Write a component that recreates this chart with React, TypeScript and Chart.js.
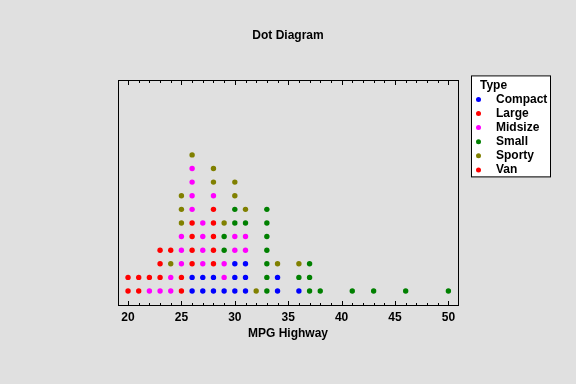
import React, { useEffect, useRef } from "react";
import { Chart, registerables } from "chart.js";

Chart.register(...registerables);

const chartTitle = "Dot Diagram";
const xAxisTitle = "MPG Highway";
const legendTitle = "Type";
const categories = ["Compact", "Large", "Midsize", "Small", "Sporty", "Van"];
const colors = ["#0000ff", "#ff0000", "#ff00ff", "#008000", "#808000", "#ff0000"];

const compactMPG = [26, 26, 27, 27, 28, 28, 29, 30, 30, 30, 31, 31, 31, 34, 34, 36];
const largeMPG = [25, 25, 26, 26, 26, 26, 28, 28, 28, 28, 28];
const midsizeMPG = [22, 23, 24, 24, 25, 25, 25, 26, 26, 26, 26, 27, 27, 27, 27, 28, 29, 29, 30, 30, 31, 31];
const smallMPG = [29, 29, 30, 30, 31, 33, 33, 33, 33, 33, 33, 33, 36, 37, 37, 37, 38, 41, 43, 46, 50];
const sportyMPG = [24, 25, 25, 25, 26, 28, 28, 29, 30, 30, 31, 32, 34, 36];
const vanMPG = [20, 20, 21, 21, 22, 23, 23, 23, 24];
const xTickValues = [20, 25, 30, 35, 40, 45, 50];

const seriesValues = [compactMPG, largeMPG, midsizeMPG, smallMPG, sportyMPG, vanMPG];

const FONT = "'Liberation Sans', Arial, sans-serif";

function buildDatasets() {
  const counts: Record<number, number> = {};
  return categories.map((name, i) => {
    const pts = seriesValues[i].map((v) => {
      counts[v] = (counts[v] || 0) + 1;
      return { x: v, y: counts[v] };
    });
    return {
      label: name,
      data: pts,
      backgroundColor: colors[i],
      borderColor: colors[i],
      borderWidth: 0,
      pointRadius: 2.7,
      pointHoverRadius: 2.7,
      showLine: false,
    };
  });
}

const bgPlugin = {
  id: "bg",
  beforeDraw(chart: any) {
    const { ctx, width, height } = chart;
    ctx.save();
    ctx.fillStyle = "#e0e0e0";
    ctx.fillRect(0, 0, width, height);
    ctx.restore();
  },
};

const framePlugin = {
  id: "frame",
  afterDatasetsDraw(chart: any) {
    const { ctx, chartArea } = chart;
    const { left, right, top, bottom } = chartArea;
    const xs = chart.scales.x;
    ctx.save();
    ctx.strokeStyle = "#000";
    ctx.lineWidth = 1;
    ctx.strokeRect(Math.round(left) + 0.5, Math.round(top) + 0.5, Math.round(right - left), Math.round(bottom - top));
    const first = xTickValues[0];
    const last = xTickValues[xTickValues.length - 1];
    ctx.beginPath();
    for (let v = first; v <= last; v++) {
      const px = Math.round(xs.getPixelForValue(v)) + 0.5;
      const major = xTickValues.includes(v);
      const len = major ? 5 : 3;
      ctx.moveTo(px, Math.round(bottom));
      ctx.lineTo(px, Math.round(bottom) - len);
      ctx.moveTo(px, Math.round(top));
      ctx.lineTo(px, Math.round(top) + len);
    }
    ctx.stroke();
    ctx.restore();
  },
};

const legendPlugin = {
  id: "boxLegend",
  afterDraw(chart: any) {
    const { ctx, chartArea } = chart;
    const x0 = chartArea.right + 13;
    const y0 = chartArea.top - 5;
    const w = 79;
    const h = 101;
    ctx.save();
    ctx.fillStyle = "#ffffff";
    ctx.fillRect(x0, y0, w, h);
    ctx.strokeStyle = "#000";
    ctx.lineWidth = 1;
    ctx.strokeRect(x0 + 0.5, y0 + 0.5, w, h);
    ctx.fillStyle = "#000";
    ctx.font = `bold 12px ${FONT}`;
    ctx.textBaseline = "middle";
    ctx.textAlign = "left";
    ctx.fillText(legendTitle, x0 + 9, y0 + 10);
    chart.data.datasets.forEach((ds: any, i: number) => {
      const cy = y0 + 24 + i * 14.1;
      ctx.fillStyle = ds.backgroundColor;
      ctx.beginPath();
      ctx.arc(x0 + 7.5, cy, 2.5, 0, Math.PI * 2);
      ctx.fill();
      ctx.fillStyle = "#000";
      ctx.fillText(ds.label, x0 + 25, cy);
    });
    ctx.restore();
  },
};

export default function App() {
  const ref = useRef<HTMLCanvasElement | null>(null);
  useEffect(() => {
    if (!ref.current) return;
    const chart = new Chart(ref.current, {
      type: "scatter",
      data: { datasets: buildDatasets() as any },
      options: {
        animation: false,
        responsive: false,
        devicePixelRatio: 1,
        events: [],
        layout: { padding: { left: 118, right: 118, top: 0, bottom: 40 } },
        plugins: {
          legend: { display: false },
          tooltip: { enabled: false },
          title: {
            display: true,
            text: chartTitle,
            color: "#000",
            font: { family: FONT, size: 12, weight: "bold" },
            padding: { top: 28, bottom: 38 },
          },
        },
        scales: {
          x: {
            type: "linear",
            min: 19.06,
            max: 50.9,
            afterBuildTicks: (scale: any) => {
              scale.ticks = xTickValues.map((v) => ({ value: v }));
            },
            grid: { display: false, drawTicks: false },
            border: { display: false },
            ticks: {
              color: "#000",
              padding: 5,
              maxRotation: 0,
              autoSkip: false,
              font: { family: FONT, size: 12, weight: "bold" },
              callback: (v: any) => String(v),
            },
            title: {
              display: true,
              text: xAxisTitle,
              color: "#000",
              font: { family: FONT, size: 12, weight: "bold", lineHeight: 1 },
              padding: { top: -2, bottom: 4 },
            },
          },
          y: {
            type: "linear",
            display: false,
            min: -0.07,
            max: 16.47,
          },
        },
      },
      plugins: [bgPlugin, framePlugin, legendPlugin],
    });
    return () => chart.destroy();
  }, []);
  return (
    <div style={{ position: "fixed", left: 0, top: 0, width: 576, height: 384 }}>
      <canvas ref={ref} width={576} height={384} style={{ display: "block" }} />
    </div>
  );
}
